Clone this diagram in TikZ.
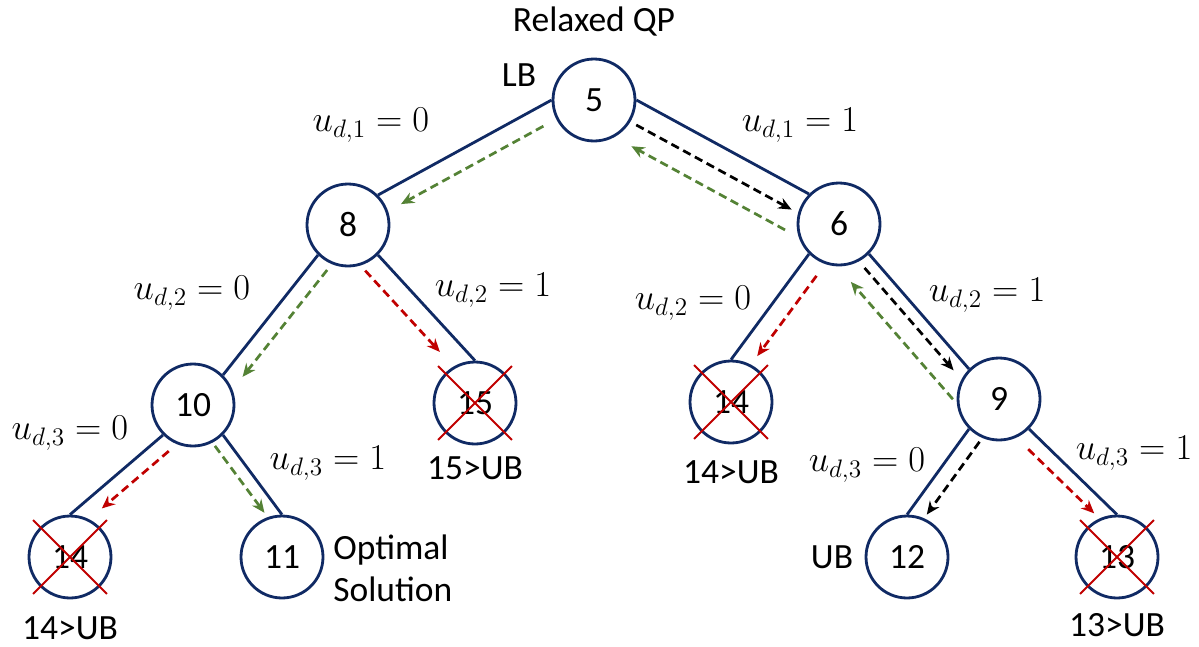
\documentclass[tikz,border=0pt]{standalone}
\usepackage{fontspec}
\setmainfont{Carlito}
\usepackage{amsmath}
\usetikzlibrary{calc,arrows.meta,shapes.misc}
\definecolor{navy}{RGB}{16,42,100}
\definecolor{fgreen}{RGB}{84,130,53}
\definecolor{fred}{RGB}{192,0,0}

\begin{document}
\begin{tikzpicture}
  [x=0.02cm,y=-0.02cm,every node/.style={font=\fontsize{20.2}{24}\selectfont,inner sep=0pt}]
 \tikzset{BB/.style={circle,draw=navy,line width=1.6pt,minimum size=1.64cm},
  EdgeStyle/.style={draw=navy,line width=1.6pt},
  Flow/.style={line width=1.55pt,dash pattern=on 4.8pt off 2.8pt,-{Stealth[length=7.5pt,width=6.5pt]}},
  Cut/.style={cross out,draw=fred,line width=1.1pt,minimum size=1.44cm}}
 \useasboundingbox (0,0) rectangle (1199,646);

  \node[BB] (n5) at (594,100) {5};
  \node[BB] (n8) at (348,225) {8};
  \node[BB] (n6) at (839,224) {6};
  \node[BB] (n10) at (193,405) {10};
  \node[BB] (n15) at (475,403) {15};
  \node[BB] (n14r) at (731,402) {14};
  \node[BB] (n9) at (999,399) {9};
  \node[BB] (n14l) at (70,557) {14};
  \node[BB] (n11) at (282,557) {11};
  \node[BB] (n12) at (907,557) {12};
  \node[BB] (n13) at (1117,557) {13};

  \node (qp) at (594,22) {Relaxed QP};
  \node (lb) at (519,75) {LB};
  \node (u1l) at (371,125) {$u_{d,1}=0$};
  \node (u1r) at (800,125) {$u_{d,1}=1$};
  \node (u2l) at (192,293) {$u_{d,2}=0$};
  \node (u2m) at (493,290) {$u_{d,2}=1$};
  \node (u2n) at (693,303) {$u_{d,2}=0$};
  \node (u2r) at (987,295) {$u_{d,2}=1$};
  \node (u3l) at (70,433) {$u_{d,3}=0$};
  \node (u3m) at (328,463) {$u_{d,3}=1$};
  \node (u3n) at (867,465) {$u_{d,3}=0$};
  \node (u3r) at (1134,453) {$u_{d,3}=1$};
  \node (b15) at (475,468) {15>UB};
  \node (b14r) at (731,472) {14>UB};
  \node (b14l) at (70,628) {14>UB};
  \node (b13) at (1117,625) {13>UB};
  \node (ub) at (832,557) {UB};
  \node[anchor=west,align=left] (opt) at (333,568) {Optimal\\Solution};

 \foreach \from/\to in {n5.west/n8.north east,n5.east/n6.north west,n8.south west/n10.north east,n8.south east/n15.north,n6.south west/n14r.north,n6.south east/n9.north west,n10.south west/n14l.north,n10.south east/n11.north,n9.south west/n12.north,n9.south east/n13.north}
    \draw[EdgeStyle] (\from) -- (\to);

 \foreach \from/\to/\col/\rot/\off/\s/\e in {n5.west/n8.north east/fgreen/90/0.38cm/0.10/0.92,
   n5.east/n6.north west/black/-90/0.44cm/0.06/0.96,
   n5.east/n6.north west/fgreen/-90/0.86cm/0.98/0.09,
   n8.south west/n10.north east/fgreen/90/0.33cm/0.04/0.93,
   n8.south east/n15.north/fred/-90/0.4cm/0.02/0.79,
   n6.south west/n14r.north/fred/90/0.38cm/0.10/0.86,
   n6.south east/n9.north west/black/-90/0.25cm/0.05/0.94,
   n6.south east/n9.north west/fgreen/-90/0.64cm/1.08/0.06,
   n10.south west/n14l.north/fred/90/0.32cm/0.05/0.77,
   n10.south east/n11.north/fgreen/-90/0.26cm/0.04/0.88,
   n9.south west/n12.north/black/90/0.32cm/0.04/0.89,
   n9.south east/n13.north/fred/-90/0.3cm/0.11/0.86}{
    \coordinate (p) at ($(\from)!\off!\rot:(\to)$);
    \coordinate (q) at ($(p)+(\to)-(\from)$);
    \draw[Flow,\col] ($(p)!\s!(q)$) -- ($(p)!\e!(q)$);
 }

 \foreach \n in {n15,n14r,n14l,n13}
    \node[Cut] (x\n) at (\n) {};

\end{tikzpicture}
\end{document}
